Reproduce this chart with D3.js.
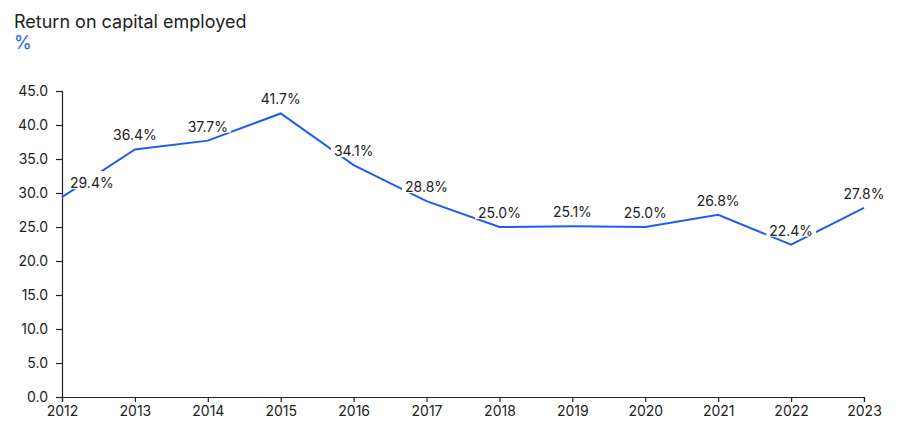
<!DOCTYPE html>
<html><head><meta charset="utf-8">
<script src="https://cdn.jsdelivr.net/npm/d3@7"></script>
<style>
body{margin:0;background:#fff;}
text{font-family:Inter,"Noto Sans",sans-serif;}
</style></head>
<body><svg id="c" width="904" height="438"></svg>
<script>
const years = [2012,2013,2014,2015,2016,2017,2018,2019,2020,2021,2022,2023];
const roce = [29.4,36.4,37.7,41.7,34.1,28.8,25.0,25.1,25.0,26.8,22.4,27.8];
const yTicks = [0,5,10,15,20,25,30,35,40,45];
const title = "Return on capital employed";
const unit = "%";

const svg = d3.select("#c");
const m = {l:62, r:40, t:91, b:41};
const W = 904, H = 438;
const x = d3.scaleLinear().domain([2012,2023]).range([m.l, W-m.r]);
const y = d3.scaleLinear().domain([0,45]).range([H-m.b, m.t]);

svg.append("text").attr("x",14).attr("y",28).attr("font-size",18).attr("fill","#222").text(title);
svg.append("text").attr("x",14).attr("y",49).attr("font-size",18).attr("fill","#1f5cf0").text(unit);

const ya = svg.append("g").attr("transform",`translate(${m.l},0)`)
  .call(d3.axisLeft(y).tickValues(yTicks).tickFormat(d3.format(".1f")).tickSizeOuter(0).tickSize(6).tickPadding(8));
const xa = svg.append("g").attr("transform",`translate(0,${H-m.b})`)
  .call(d3.axisBottom(x).tickValues(years).tickFormat(d3.format("d")).tickSizeOuter(0).tickSize(5).tickPadding(4));
[ya,xa].forEach(a=>{
  a.selectAll("path,line").attr("stroke","#222").attr("stroke-width",1.2);
  a.selectAll("text").attr("font-size",14).attr("fill","#222").attr("font-family","Inter,'Noto Sans',sans-serif");
});

const line = d3.line().x((d,i)=>x(years[i])).y(d=>y(d));
svg.append("path").datum(roce).attr("d",line).attr("fill","none").attr("stroke","#1f5cf0").attr("stroke-width",2);

const lg = svg.append("g").selectAll("g").data(roce).join("g");
lg.append("text")
  .attr("x",(d,i)=> i===0 ? x(years[i])+8 : x(years[i]))
  .attr("y",d=>y(d)-9)
  .attr("text-anchor",(d,i)=> i===0 ? "start" : "middle")
  .attr("font-size",14).attr("fill","#222")
  .text(d=>d.toFixed(1)+"%");
lg.each(function(){
  const g = d3.select(this);
  const b = g.select("text").node().getBBox();
  g.insert("rect","text").attr("x",b.x-3).attr("y",b.y-3).attr("width",b.width+6).attr("height",b.height+1).attr("fill","#fff");
});
</script></body></html>
